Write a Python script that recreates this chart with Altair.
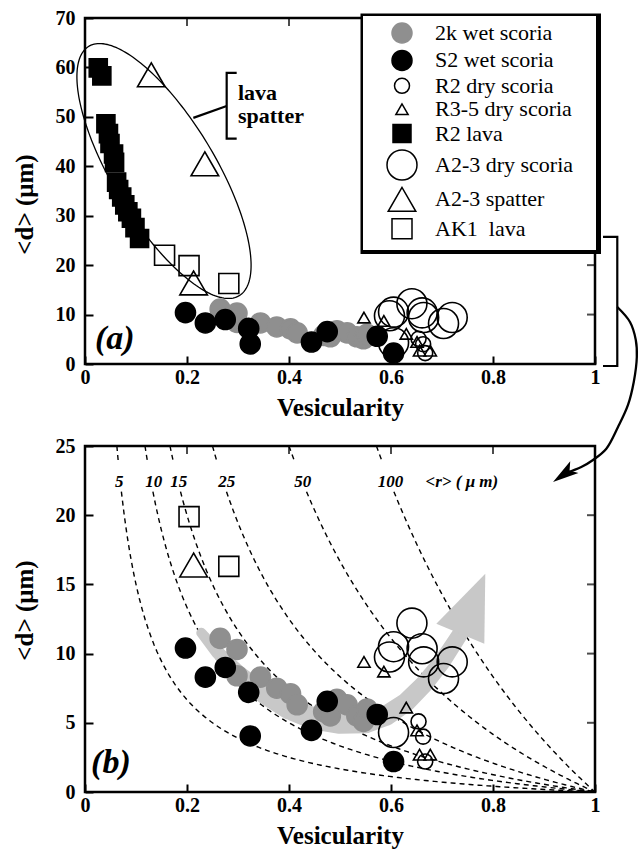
import altair as alt
import numpy as np
import pandas as pd

FONT = "Liberation Serif"

# ---------------- data ----------------
SERIES = ["2k wet scoria", "S2 wet scoria", "R2 dry scoria", "R3-5 dry scoria",
          "R2 lava", "A2-3 dry scoria", "A2-3 spatter", "AK1\u00a0 lava"]
SHAPES = ["circle", "circle", "circle", "triangle-up", "square", "circle", "triangle-up", "square"]
FILLS = ["#8f8f8f", "black", "transparent", "transparent", "black", "transparent", "transparent", "transparent"]
STROKES = ["#8f8f8f", "black", "black", "black", "black", "black", "black", "black"]
SIZES = [400, 400, 225, 150, 324, 900, 760, 400]

wet2k_v = [0.265, 0.298, 0.298, 0.344, 0.376, 0.403, 0.416, 0.468, 0.481, 0.494, 0.514, 0.533, 0.546, 0.553]
wet2k_d = [11.1, 10.3, 8.4, 8.3, 7.5, 7.1, 6.3, 5.8, 5.5, 6.7, 6.3, 5.5, 5.1, 6.0]

s2wet_v = [0.197, 0.236, 0.275, 0.321, 0.324, 0.444, 0.475, 0.573, 0.605]
s2wet_d = [10.4, 8.3, 9.0, 7.2, 4.05, 4.45, 6.55, 5.6, 2.2]

r2dry_v = [0.654, 0.663, 0.667]
r2dry_d = [5.1, 4.0, 2.2]

r35dry_v = [0.547, 0.586, 0.630, 0.651, 0.656, 0.677]
r35dry_d = [9.4, 8.7, 6.1, 4.45, 2.7, 2.7]

r2lava_v = [0.026, 0.033, 0.041, 0.046, 0.049, 0.056, 0.058, 0.062, 0.066, 0.072, 0.078, 0.084, 0.091, 0.098, 0.107]
r2lava_d = [59.9, 58.3, 48.6, 46.6, 44.6, 42.5, 40.8, 36.8, 35.3, 33.8, 32.2, 30.8, 29.5, 27.6, 25.4]

a23dry_v = [0.641, 0.605, 0.597, 0.661, 0.664, 0.720, 0.703, 0.605]
a23dry_d = [12.2, 10.5, 9.75, 10.35, 9.4, 9.4, 8.2, 4.3]

a23spat_v = [0.130, 0.235, 0.213]
a23spat_d = [58.5, 40.5, 16.4]

ak1lava_v = [0.156, 0.204, 0.282]
ak1lava_d = [22.0, 19.9, 16.3]
ak1lava_in_b = [False, True, True]

# model curves d = r(1-phi)/(3 phi) for mean bubble radius r
R_VALUES = [5, 10, 15, 25, 50, 100]
R_LABEL_X = [0.067, 0.135, 0.184, 0.278, 0.427, 0.599]
R_LABEL_Y = 22.4
LABEL_GAP = (21.7, 23.9)

# grey trend arrow (panel b): centre line and width in px
trend_v = [0.228, 0.26, 0.30, 0.35, 0.40, 0.45, 0.50, 0.55, 0.59, 0.63, 0.665, 0.70, 0.737]
trend_d = [11.5, 10.1, 8.6, 7.1, 6.0, 5.3, 5.0, 5.0, 5.5, 6.5, 7.8, 9.4, 11.5]
trend_w = [10, 13, 16, 19, 21, 22, 22, 21, 20, 19, 18, 17, 16]

# ---------------- tables ----------------
rows = []
groups = [(SERIES[0], wet2k_v, wet2k_d, None), (SERIES[1], s2wet_v, s2wet_d, None),
          (SERIES[2], r2dry_v, r2dry_d, None), (SERIES[3], r35dry_v, r35dry_d, None),
          (SERIES[4], r2lava_v, r2lava_d, None), (SERIES[5], a23dry_v, a23dry_d, None),
          (SERIES[6], a23spat_v, a23spat_d, None), (SERIES[7], ak1lava_v, ak1lava_d, ak1lava_in_b)]
for name, xs, ys, flags in groups:
    for k, (xv, yv) in enumerate(zip(xs, ys)):
        rows.append({"series": name, "x": xv, "y": yv, "inb": True if flags is None else flags[k]})
pts = pd.DataFrame(rows)
pts_b = pts[pts["inb"] & (pts["y"] <= 25)]

crows = []
for r in R_VALUES:
    for seg, (dhi, dlo) in enumerate([(25.0, LABEL_GAP[1]), (LABEL_GAP[0], 0.0)]):
        p0 = r / (r + 3 * dhi)
        p1 = 1.0 if dlo == 0 else r / (r + 3 * dlo)
        for phi in np.linspace(p0, p1, 160):
            crows.append({"seg": f"{r}-{seg}", "x": phi, "y": r * (1 - phi) / (3 * phi)})
curves = pd.DataFrame(crows)

trend = pd.DataFrame({"x": trend_v, "y": trend_d, "w": trend_w, "i": range(len(trend_v))})

# ---------------- layout ----------------
W, H = 510, 346
YMAX_A, YMAX_B = 70, 25
X_TICKS = [0, 0.2, 0.4, 0.6, 0.8, 1]


def xenc():
    return alt.X("x:Q", scale=alt.Scale(domain=[0, 1], nice=False, zero=False),
                 axis=alt.Axis(values=X_TICKS, format="~g", title="Vesicularity"))


def yenc(ymax, step, title_y):
    return alt.Y("y:Q", scale=alt.Scale(domain=[0, ymax], nice=False, zero=False),
                 axis=alt.Axis(values=list(range(0, ymax + 1, step)), title="<d> (\u03bcm)",
                               titleY=title_y))


def point_layer(data, ymax, step, ty, legend):
    return alt.Chart(data).mark_point(opacity=1, strokeWidth=1.6).encode(
        x=xenc(), y=yenc(ymax, step, ty),
        shape=alt.Shape("series:N", scale=alt.Scale(domain=SERIES, range=SHAPES), legend=legend),
        fill=alt.Fill("series:N", scale=alt.Scale(domain=SERIES, range=FILLS), legend=legend),
        stroke=alt.Stroke("series:N", scale=alt.Scale(domain=SERIES, range=STROKES), legend=legend),
        size=alt.Size("series:N", scale=alt.Scale(type="ordinal", domain=SERIES, range=SIZES), legend=legend),
    )


legend = alt.Legend(orient="none", legendX=301, legendY=4, title=None, padding=0,
                    labelFont=FONT, labelFontSize=22, labelColor="black", labelOffset=17,
                    rowPadding=1.4, symbolStrokeWidth=1.5, labelLimit=300)

# ---------- panel (a) ----------
ty_a, ty_b = 186, 164
top_a = alt.Chart(pd.DataFrame({"x": [0.2, 0.4, 0.6, 0.8]})).mark_tick(
    color="black", thickness=2, size=8).encode(x=xenc(), y=alt.value(4))
right_a = alt.Chart(pd.DataFrame({"y": list(range(10, 70, 10))})).mark_tick(
    color="black", thickness=2, size=8, orient="horizontal").encode(
    y=yenc(YMAX_A, 10, ty_a), x=alt.value(W - 4))

one = pd.DataFrame({"a": [0]})
box_shadow = alt.Chart(one).mark_rect(color="black").encode(
    x=alt.value(275.5), x2=alt.value(516), y=alt.value(-4.5), y2=alt.value(236))
box_white = alt.Chart(one).mark_rect(color="white").encode(
    x=alt.value(278), x2=alt.value(511), y=alt.value(-2), y2=alt.value(232))

# ellipse around lava / spatter (defined in plot pixels, converted to data units)
ecx, ecy, ea, eb, eth = 79, 153, 145.6, 51.3, np.deg2rad(58.9)
t = np.linspace(0, 2 * np.pi, 200)
epx = ecx + ea * np.cos(eth) * np.cos(t) - eb * np.sin(eth) * np.sin(t)
epy = ecy + ea * np.sin(eth) * np.cos(t) + eb * np.cos(eth) * np.sin(t)
ell = pd.DataFrame({"x": epx / W, "y": (H - epy) / H * YMAX_A, "i": range(len(t))})
ellipse = alt.Chart(ell).mark_line(color="black", strokeWidth=1.3).encode(
    x=xenc(), y=yenc(YMAX_A, 10, ty_a), order="i:Q")

ann_lines = pd.DataFrame({
    "g": ["br"] * 4 + ["con"] * 2 + ["rbr"] * 4,
    "i": [0, 1, 2, 3, 0, 1, 0, 1, 2, 3],
    "x": [0.2974, 0.2778, 0.2778, 0.2974, 0.2124, 0.2778, 1.0157, 1.0437, 1.0437, 1.0157],
    "y": [58.9, 58.9, 45.6, 45.6, 49.8, 52.2, 25.7, 25.7, -0.4, -0.4],
})
brackets = alt.Chart(ann_lines).mark_line(color="black", strokeWidth=2.2).encode(
    x=xenc(), y=yenc(YMAX_A, 10, ty_a), detail="g:N", order="i:Q")

arrow_v = [1.0437, 1.0686, 1.0800, 1.0820, 1.0760, 1.0647, 1.0451, 1.0222, 0.9961, 0.9731, 0.943]
arrow_d = [11.53, 8.50, 4.86, 1.42, -3.64, -8.29, -12.75, -17.14, -19.42, -20.84, -22.05]
curve_arrow = alt.Chart(pd.DataFrame({"x": arrow_v, "y": arrow_d, "i": range(len(arrow_v))})).mark_line(
    color="black", strokeWidth=2.3, interpolate="catmull-rom").encode(
    x=xenc(), y=yenc(YMAX_A, 10, ty_a), order="i:Q")
arrow_head = alt.Chart(pd.DataFrame({"x": [0.9386], "y": [-22.38]})).mark_point(
    shape="M0,-1L-0.55,1L0,0.55L0.55,1Z", filled=True, color="black", opacity=1,
    size=676, angle=235).encode(x=xenc(), y=yenc(YMAX_A, 10, ty_a))

lava_txt = alt.Chart(pd.DataFrame({"x": [0.3, 0.3], "y": [53.4, 48.7], "t": ["lava", "spatter"]})).mark_text(
    font=FONT, fontSize=22, fontWeight="bold", align="left", baseline="alphabetic", color="black").encode(
    x=xenc(), y=yenc(YMAX_A, 10, ty_a), text="t:N")
lab_a = alt.Chart(pd.DataFrame({"x": [0.0196], "y": [3.0], "t": ["(a)"]})).mark_text(
    font=FONT, fontSize=34, fontWeight="bold", fontStyle="italic", align="left",
    baseline="alphabetic", color="black").encode(x=xenc(), y=yenc(YMAX_A, 10, ty_a), text="t:N")

panel_a = alt.layer(
    top_a, right_a, box_shadow, box_white, ellipse, brackets,
    point_layer(pts, YMAX_A, 10, ty_a, legend),
    lava_txt, lab_a, curve_arrow, arrow_head,
).properties(width=W, height=H)

# ---------- panel (b) ----------
top_b = alt.Chart(pd.DataFrame({"x": [0.2, 0.4, 0.6, 0.8]})).mark_tick(
    color="black", thickness=2, size=8).encode(x=xenc(), y=alt.value(4))
right_b = alt.Chart(pd.DataFrame({"y": [5, 10, 15, 20]})).mark_tick(
    color="black", thickness=2, size=8, orient="horizontal").encode(
    y=yenc(YMAX_B, 5, ty_b), x=alt.value(W - 4))

dashed = alt.Chart(curves).mark_line(color="black", strokeWidth=1.4, strokeDash=[5, 4]).encode(
    x=xenc(), y=yenc(YMAX_B, 5, ty_b), detail="seg:N")

trail = alt.Chart(trend).mark_trail(color="#c8c8c8", opacity=1).encode(
    x=xenc(), y=yenc(YMAX_B, 5, ty_b), size=alt.Size("w:Q", scale=None), order="i:Q")
trail_head = alt.Chart(pd.DataFrame({"x": [0.7604], "y": [13.6]})).mark_point(
    shape="M0,-1L-0.8,1L0.8,1Z", filled=True, color="#c8c8c8", opacity=1,
    size=4225, angle=22.6).encode(x=xenc(), y=yenc(YMAX_B, 5, ty_b))

rlab = pd.DataFrame({"x": R_LABEL_X + [0.739], "y": [R_LABEL_Y] * 7,
                     "t": [str(r) for r in R_VALUES] + ["<r> ( \u03bc m)"]})
r_text = alt.Chart(rlab).mark_text(font=FONT, fontSize=17, fontWeight="bold", fontStyle="italic",
                                   align="center", baseline="middle", color="black").encode(
    x=xenc(), y=yenc(YMAX_B, 5, ty_b), text="t:N")
lab_b = alt.Chart(pd.DataFrame({"x": [0.012], "y": [1.37], "t": ["(b)"]})).mark_text(
    font=FONT, fontSize=34, fontWeight="bold", fontStyle="italic", align="left",
    baseline="alphabetic", color="black").encode(x=xenc(), y=yenc(YMAX_B, 5, ty_b), text="t:N")

panel_b = alt.layer(
    top_b, right_b, dashed, trail, trail_head,
    point_layer(pts_b, YMAX_B, 5, ty_b, None),
    r_text, lab_b,
).properties(width=W, height=H)

chart = alt.vconcat(panel_a, panel_b, spacing=82, bounds="flush").resolve_scale(
    y="independent").resolve_legend(
    fill="independent", stroke="independent", shape="independent", size="independent"
).properties(
    padding={"left": 10, "top": 6, "right": 0, "bottom": 0}, background="white"
).configure_view(stroke="black", strokeWidth=2.5).configure_axis(
    domain=False, grid=False, ticks=True, tickSize=8, tickWidth=2, tickColor="black", offset=-8,
    labelFont=FONT, labelFontSize=20, labelFontWeight="bold", labelColor="black", labelFlush=False,
    titleFont=FONT, titleFontSize=25, titleFontWeight="bold", titleColor="black",
).configure_axisX(labelPadding=3, titlePadding=8).configure_axisY(labelPadding=10, titlePadding=18)

chart.save("out.html", embed_options={"renderer": "svg", "actions": False})
